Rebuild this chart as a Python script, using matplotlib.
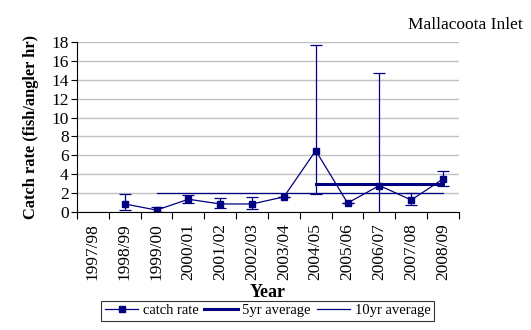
import numpy as np
import matplotlib
matplotlib.use("Agg")
import matplotlib.pyplot as plt
from matplotlib.lines import Line2D

plt.rcParams['font.family'] = ['Liberation Serif', 'DejaVu Serif']

seasons = ["1997/98", "1998/99", "1999/00", "2000/01", "2001/02", "2002/03",
           "2003/04", "2004/05", "2005/06", "2006/07", "2007/08", "2008/09"]
catch_rate = [np.nan, 0.85, 0.2, 1.35, 0.85, 0.85, 1.6, 6.5, 0.95, 2.8, 1.27, 3.5]
err_upper = [np.nan, 1.9, 0.5, 1.85, 1.5, 1.6, 1.6, 17.7, 0.95, 14.7, 2.0, 4.3]
err_lower = [np.nan, 0.2, 0.05, 1.0, 0.4, 0.3, 1.6, 1.9, 0.95, -1.0, 0.75, 2.8]
avg_5yr = [np.nan] * 7 + [3.0] * 5
avg_10yr = [np.nan] * 2 + [2.0] * 10

navy = "#000080"
x = np.arange(len(seasons))
cr = np.array(catch_rate)
yerr = np.array([cr - np.array(err_lower), np.array(err_upper) - cr])

fig = plt.figure(figsize=(5.31, 3.30), dpi=100)
ax = fig.add_axes([0.145, 0.3576, 0.7194, 0.515])

ax.set_ylim(0, 18)
ax.set_xlim(-0.5, len(seasons) - 0.5)
ax.set_yticks(range(0, 19, 2))
ax.yaxis.grid(True, color="#c0c0c0", linewidth=1)
ax.set_axisbelow(True)

ax.errorbar(x, cr, yerr=yerr, color=navy, marker="s", markersize=5,
            linewidth=0.9, elinewidth=0.9, capsize=4, capthick=0.9)
ax.plot(x, avg_5yr, color=navy, linewidth=2.2)
ax.plot(x, avg_10yr, color=navy, linewidth=0.9)

for s in ("top", "right"):
    ax.spines[s].set_visible(False)

ax.set_xticks(np.arange(-0.5, len(seasons), 1), minor=False)
ax.set_xticklabels([])
ax.set_xticks(x, minor=True)
ax.set_xticklabels(seasons, minor=True, rotation=90, fontsize=12.5)
ax.tick_params(axis="x", which="minor", length=0, pad=8)
ax.tick_params(axis="x", which="major", length=5, direction="out")
ax.tick_params(axis="y", length=4, direction="out", labelsize=12.5, pad=2)

ax.set_ylabel("Catch rate (fish/angler hr)", fontsize=11.8, fontweight="bold", labelpad=9)
ax.set_xlabel("Year", fontsize=13, fontweight="bold", labelpad=3)

fig.text(0.985, 0.925, "Mallacoota Inlet", ha="right", va="center", fontsize=12.5)

handles = [
    Line2D([], [], color=navy, marker="s", markersize=5, linewidth=0.9),
    Line2D([], [], color=navy, linewidth=2.2),
    Line2D([], [], color=navy, linewidth=0.9),
]
labels = ["catch rate", "5yr average", "10yr average"]
leg = fig.legend(handles, labels, loc="center", bbox_to_anchor=(0.504, 0.058), ncol=3,
                 fontsize=10.5, frameon=True, fancybox=False, edgecolor="black",
                 borderpad=0.25, handlelength=2.3, columnspacing=0.4, handletextpad=0.3)
leg.get_frame().set_linewidth(0.8)

fig.savefig("out.png", dpi=100)
